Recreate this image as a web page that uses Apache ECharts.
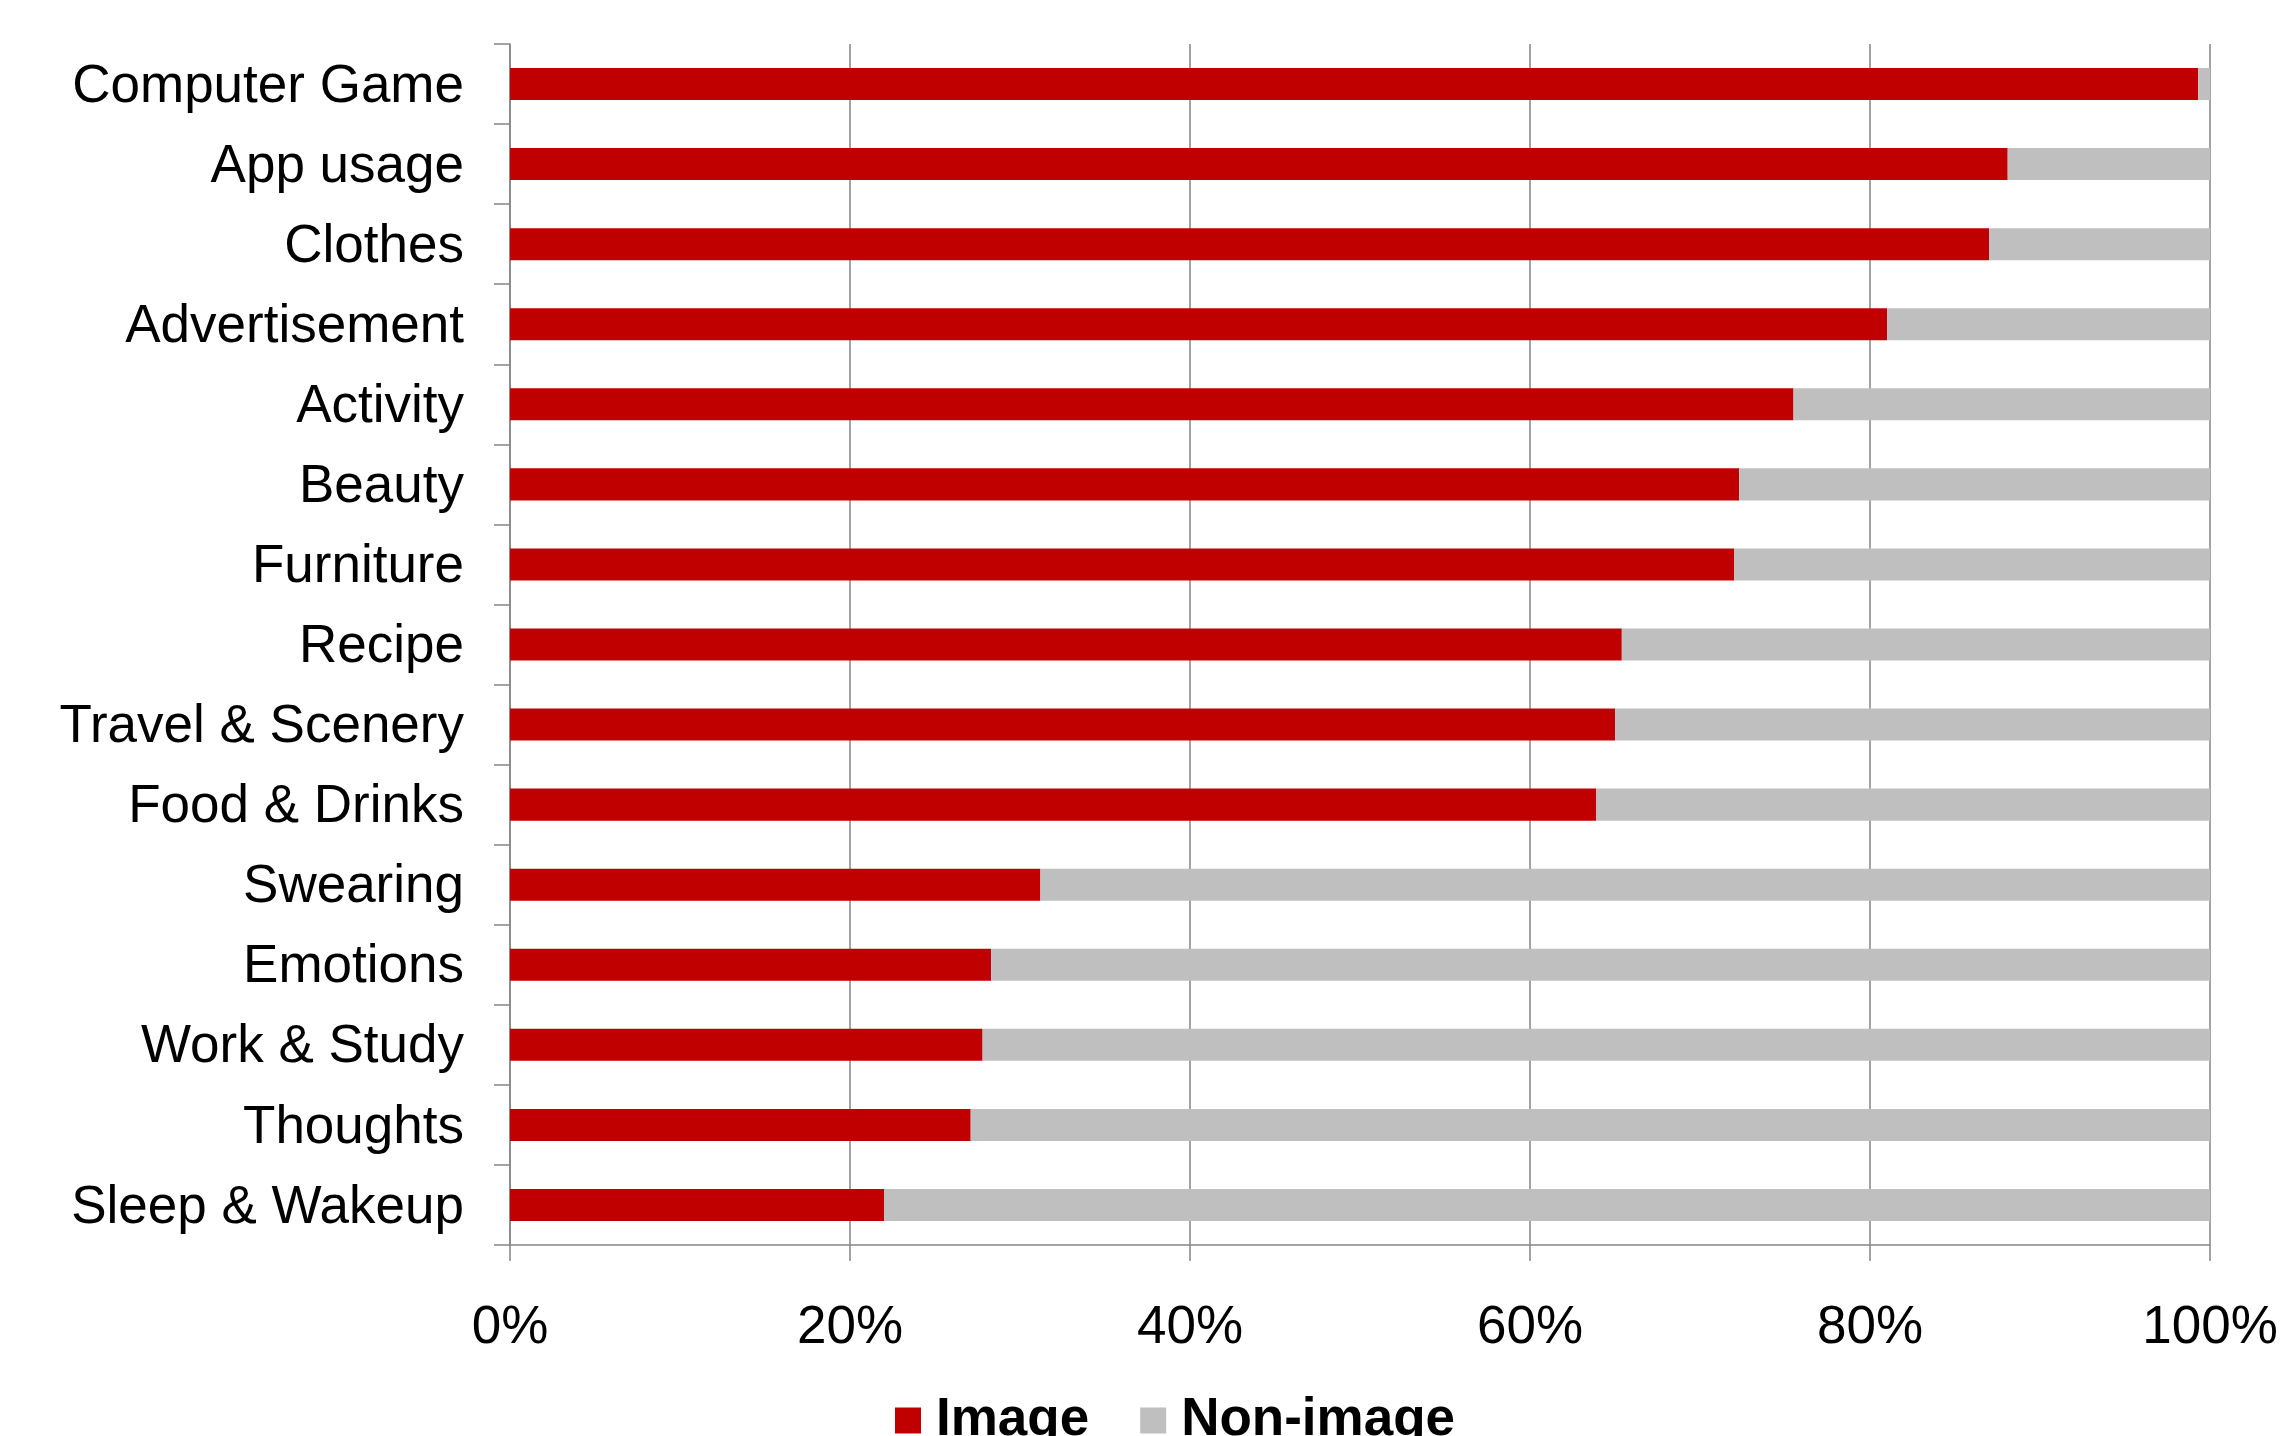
<!DOCTYPE html>
<html>
<head>
<meta charset="utf-8">
<title>Image vs Non-image share by category</title>
<script src="https://cdn.jsdelivr.net/npm/echarts@6/dist/echarts.min.js"></script>
<style>
  html, body { margin: 0; padding: 0; background: #ffffff; }
  #chart { width: 2284px; height: 1436px; }
</style>
</head>
<body>
<div id="chart"></div>
<script>
// Categories, listed top to bottom
const categories = [
  'Computer Game', 'App usage', 'Clothes', 'Advertisement', 'Activity',
  'Beauty', 'Furniture', 'Recipe', 'Travel & Scenery', 'Food & Drinks',
  'Swearing', 'Emotions', 'Work & Study', 'Thoughts', 'Sleep & Wakeup'
];

// Share of posts with images (%)
const imageShare = [99.3, 88.1, 87.0, 81.0, 75.5, 72.3, 72.0, 65.4, 65.0, 63.9, 31.2, 28.3, 27.8, 27.1, 22.0];

// Share of posts without images (%)
const nonImageShare = [0.7, 11.9, 13.0, 19.0, 24.5, 27.7, 28.0, 34.6, 35.0, 36.1, 68.8, 71.7, 72.2, 72.9, 78.0];

// Value axis ticks
const axisMin = 0;
const axisMax = 100;
const axisStep = 20;

const seriesNames = ['Image', 'Non-image'];

const FONT = '"Liberation Sans", Arial, sans-serif';
const AXIS_GRAY = '#868686';

const chart = echarts.init(document.getElementById('chart'), null, { renderer: 'canvas' });

chart.setOption({
  animation: false,
  backgroundColor: '#ffffff',
  textStyle: { fontFamily: FONT },
  grid: { left: 510, right: 74, top: 44, bottom: 191, containLabel: false },
  legend: {
    data: seriesNames,
    left: 890,
    top: 1389,
    icon: 'rect',
    itemWidth: 26,
    itemHeight: 26,
    itemGap: 51,
    textStyle: {
      fontFamily: FONT,
      fontSize: 53,
      fontWeight: 'bold',
      color: '#000000',
      padding: [0, 0, 0, 10]
    }
  },
  xAxis: {
    type: 'value',
    min: axisMin,
    max: axisMax,
    interval: axisStep,
    axisLine: { show: true, lineStyle: { color: AXIS_GRAY, width: 1.5 } },
    axisTick: { show: true, length: 16, lineStyle: { color: AXIS_GRAY, width: 1.5 } },
    splitLine: { show: true, lineStyle: { color: AXIS_GRAY, width: 1.5 } },
    axisLabel: {
      formatter: '{value}%',
      fontFamily: FONT,
      fontSize: 53,
      color: '#000000',
      margin: 57
    }
  },
  yAxis: {
    type: 'category',
    data: categories,
    inverse: true,
    axisLine: { show: true, lineStyle: { color: AXIS_GRAY, width: 1.5 } },
    axisTick: { show: true, length: 16, lineStyle: { color: AXIS_GRAY, width: 1.5 } },
    splitLine: { show: false },
    axisLabel: {
      formatter: (name) => '{cat|' + name + '}',
      margin: 46,
      rich: {
        cat: {
          fontFamily: FONT,
          fontSize: 53,
          color: '#000000',
          padding: [6, 0, 0, 0]
        }
      }
    }
  },
  series: [
    {
      name: seriesNames[0],
      type: 'bar',
      stack: 'share',
      barWidth: '40%',
      itemStyle: { color: '#C00000' },
      data: imageShare
    },
    {
      name: seriesNames[1],
      type: 'bar',
      stack: 'share',
      barWidth: '40%',
      itemStyle: { color: '#BFBFBF' },
      data: nonImageShare
    }
  ]
});
</script>
</body>
</html>
